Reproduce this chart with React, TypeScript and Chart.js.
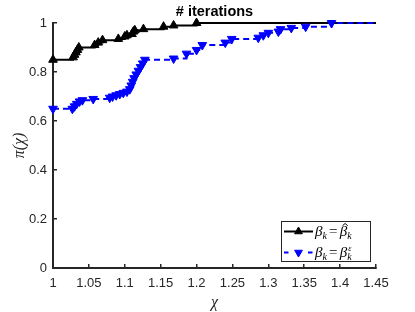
import React, { useEffect, useRef } from 'react';
import { Chart, registerables } from 'chart.js';

Chart.register(...registerables);

const chartTitle = '# iterations';
const xAxisTitle = 'χ';
const yAxisTitle = 'π(χ)';

const xTicks = [1, 1.05, 1.1, 1.15, 1.2, 1.25, 1.3, 1.35, 1.4, 1.45];
const xTickLabels = ['1', '1.05', '1.1', '1.15', '1.2', '1.25', '1.3', '1.35', '1.4', '1.45'];
const yTicks = [0, 0.2, 0.4, 0.6, 0.8, 1];
const yTickLabels = ['0', '0.2', '0.4', '0.6', '0.8', '1'];

// beta_k = hat beta_k (black, up triangles)
const hatX = [1, 1.028, 1.03, 1.032, 1.034, 1.036, 1.058, 1.063, 1.069, 1.091, 1.1, 1.103, 1.11, 1.112, 1.114, 1.126, 1.154, 1.168, 1.2, 1.45];
const hatY = [0.85, 0.86, 0.87, 0.88, 0.89, 0.9, 0.91, 0.92, 0.93, 0.935, 0.945, 0.95, 0.955, 0.965, 0.97, 0.975, 0.985, 0.99, 1.0, 1.0];

// beta_k = beta_k^eps (blue dashed, down triangles)
const epsX = [1, 1.027, 1.03, 1.033, 1.037, 1.041, 1.056, 1.079, 1.083, 1.088, 1.093, 1.098, 1.103, 1.107, 1.109, 1.111, 1.113, 1.116, 1.119, 1.122, 1.125, 1.128, 1.168, 1.186, 1.2, 1.208, 1.24, 1.249, 1.286, 1.293, 1.3, 1.314, 1.317, 1.332, 1.352, 1.388, 1.45];
const epsY = [0.65, 0.65, 0.66, 0.67, 0.68, 0.685, 0.69, 0.695, 0.7, 0.705, 0.71, 0.715, 0.72, 0.73, 0.745, 0.76, 0.775, 0.79, 0.805, 0.82, 0.835, 0.85, 0.855, 0.875, 0.89, 0.91, 0.92, 0.935, 0.94, 0.95, 0.96, 0.965, 0.975, 0.98, 0.985, 1.0, 1.0];

const AXIS = '#262626';
const BLUE = '#0000ff';
const SERIF = '"Liberation Serif", "DejaVu Serif", serif';
const SANS = '"Liberation Sans", Arial, Helvetica, sans-serif';
const MARKER = 5;

function triangle(ctx: CanvasRenderingContext2D, x: number, y: number, r: number, down: boolean, color: string) {
  const s = down ? -1 : 1;
  ctx.beginPath();
  ctx.moveTo(x, y - s * r);
  ctx.lineTo(x + 0.866 * r, y + s * 0.5 * r);
  ctx.lineTo(x - 0.866 * r, y + s * 0.5 * r);
  ctx.closePath();
  ctx.fillStyle = color;
  ctx.fill();
  ctx.strokeStyle = color;
  ctx.lineWidth = 1;
  ctx.stroke();
}

const texLegend = {
  id: 'texLegend',
  afterDraw(chart: any) {
    const { ctx, chartArea } = chart;
    const right = chartArea.right - 6;
    const bottom = chartArea.bottom - 7;
    const w = 89;
    const h = 40;
    const left = right - w;
    const top = bottom - h;
    ctx.save();
    ctx.fillStyle = '#ffffff';
    ctx.fillRect(left, top, w, h);
    ctx.strokeStyle = AXIS;
    ctx.lineWidth = 1;
    ctx.strokeRect(Math.round(left) + 0.5, Math.round(top) + 0.5, w, h);

    const row1 = top + 10.5;
    const row2 = top + 31.5;
    const lx0 = left + 3;
    const lx1 = left + 32;
    const mx = left + 17.5;

    // row 1 sample
    ctx.strokeStyle = '#000000';
    ctx.lineWidth = 2;
    ctx.setLineDash([]);
    ctx.beginPath();
    ctx.moveTo(lx0, row1);
    ctx.lineTo(lx1, row1);
    ctx.stroke();
    triangle(ctx, mx, row1, MARKER - 0.5, false, '#000000');

    // row 2 sample
    ctx.strokeStyle = BLUE;
    ctx.lineWidth = 2;
    ctx.setLineDash([4.5, 7.5]);
    ctx.beginPath();
    ctx.moveTo(lx0, row2);
    ctx.lineTo(lx1 + 0.5, row2);
    ctx.stroke();
    ctx.setLineDash([]);
    triangle(ctx, mx, row2, MARKER - 0.5, true, BLUE);

    // text
    ctx.fillStyle = '#000000';
    ctx.textBaseline = 'alphabetic';
    ctx.textAlign = 'left';
    const big = 'italic 15px ' + SERIF;
    const small = 'italic 10px ' + SERIF;
    const reg = '15px ' + SERIF;
    const put = (txt: string, font: string, x: number, y: number) => {
      ctx.font = font;
      ctx.fillText(txt, x, y);
      return ctx.measureText(txt).width;
    };
    const tx = left + 34;
    // row 1: beta_k = hat beta_k
    let x = tx;
    let b = row1 + 4.5;
    x += put('β', big, x, b);
    x += put('k', small, x, b + 3) + 2;
    x += put('=', reg, x, b) + 2.5;
    const bw = put('β', big, x, b);
    // circumflex accent over the second beta
    const hx = x + bw / 2 + 1.5;
    const hy = b - 12.5;
    ctx.strokeStyle = '#000000';
    ctx.lineWidth = 1;
    ctx.beginPath();
    ctx.moveTo(hx - 2.6, hy + 2.2);
    ctx.lineTo(hx, hy);
    ctx.lineTo(hx + 2.6, hy + 2.2);
    ctx.stroke();
    x += bw;
    put('k', small, x, b + 3);
    // row 2: beta_k = beta_k^eps
    x = tx;
    b = row2 + 4.5;
    x += put('β', big, x, b);
    x += put('k', small, x, b + 3) + 2;
    x += put('=', reg, x, b) + 2.5;
    x += put('β', big, x, b);
    put('ε', 'italic 8px ' + SERIF, x + 1, b - 6);
    put('k', small, x, b + 3);
    ctx.restore();
  },
};

export default function App() {
  const ref = useRef<HTMLCanvasElement | null>(null);
  useEffect(() => {
    document.body.style.margin = '0';
    const canvas = ref.current;
    if (!canvas) return;
    const lastRadius = (n: number) => (c: any) => (c.dataIndex === n - 1 ? 0 : MARKER);
    const chart = new Chart(canvas, {
      type: 'line',
      data: {
        datasets: [
          {
            label: 'βk = βk^ε',
            data: epsX.map((v, i) => ({ x: v, y: epsY[i] })),
            borderColor: BLUE,
            backgroundColor: BLUE,
            borderWidth: 2,
            borderDash: [6, 4],
            stepped: 'before',
            pointStyle: 'triangle',
            rotation: 180,
            pointRadius: lastRadius(epsX.length),
            pointBorderWidth: 1,
            pointBorderColor: BLUE,
            pointBackgroundColor: BLUE,
            clip: false,
          },
          {
            label: 'βk = β̂k',
            data: hatX.map((v, i) => ({ x: v, y: hatY[i] })),
            borderColor: '#000000',
            backgroundColor: '#000000',
            borderWidth: 2,
            stepped: 'before',
            pointStyle: 'triangle',
            pointRadius: lastRadius(hatX.length),
            pointBorderWidth: 1,
            pointBorderColor: '#000000',
            pointBackgroundColor: '#000000',
            clip: false,
          },
        ],
      },
      options: {
        responsive: false,
        animation: false,
        layout: { padding: { left: 0, right: 39, top: 0, bottom: 0 } },
        plugins: {
          legend: { display: false },
          tooltip: { enabled: false },
          title: {
            display: true,
            text: chartTitle,
            fullSize: false,
            color: '#000000',
            font: { family: SANS, size: 14.5, weight: 'bold' },
            padding: { top: 2.8, bottom: 2.8 },
          },
        },
        scales: {
          x: {
            type: 'linear',
            min: 1,
            max: 1.45,
            afterBuildTicks: (s: any) => {
              s.ticks = xTicks.map((v) => ({ value: v }));
            },
            afterFit: (s: any) => {
              s.height = 44;
            },
            ticks: {
              callback: (_v: any, i: number) => xTickLabels[i],
              color: AXIS,
              font: { family: SANS, size: 13 },
              padding: 12,
              maxRotation: 0,
              autoSkip: false,
            },
            grid: { display: true, drawOnChartArea: false, drawTicks: true, tickLength: -4, color: AXIS, lineWidth: 1.5 },
            border: { display: true, color: AXIS, width: 2 },
            title: {
              display: true,
              text: xAxisTitle,
              color: AXIS,
              font: { family: SERIF, size: 16, style: 'italic' },
              padding: { top: 0, bottom: 0 },
            },
          },
          y: {
            type: 'linear',
            min: 0,
            max: 1,
            afterBuildTicks: (s: any) => {
              s.ticks = yTicks.map((v) => ({ value: v }));
            },
            afterFit: (s: any) => {
              s.width = 53;
            },
            ticks: {
              callback: (_v: any, i: number) => yTickLabels[i],
              color: AXIS,
              font: { family: SANS, size: 13 },
              padding: 10,
            },
            grid: { display: true, drawOnChartArea: false, drawTicks: true, tickLength: -4, color: AXIS, lineWidth: 1.5 },
            border: { display: true, color: AXIS, width: 2 },
            title: {
              display: true,
              text: yAxisTitle,
              color: AXIS,
              font: { family: SERIF, size: 16, style: 'italic' },
              padding: { top: 10, bottom: 0 },
            },
          },
        },
      },
      plugins: [texLegend],
    } as any);
    return () => chart.destroy();
  }, []);
  return (
    <div style={{ position: 'absolute', left: 0, top: 0, width: 415, height: 312 }}>
      <canvas ref={ref} width={415} height={312} />
    </div>
  );
}
